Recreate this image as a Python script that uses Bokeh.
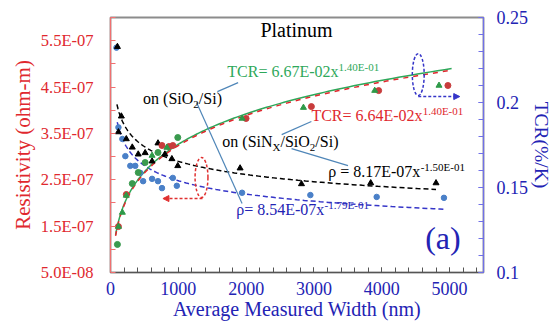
from bokeh.plotting import figure
from bokeh.models import Range1d, LinearAxis, FixedTicker, Arrow, NormalHead, Label
from bokeh.embed import file_html
from bokeh.resources import INLINE
import numpy as np

# ---------------- data ----------------
# Resistivity, Pt on SiNx/SiO2/Si (black triangles)
sinx_rho_w = [102, 160, 117, 233, 321, 409, 511, 613, 700, 802, 905, 992, 1911, 2816, 3837, 4800]
sinx_rho = [5.37e-7, 3.87e-7, 3.53e-7, 3.38e-7, 3.20e-7, 3.05e-7, 3.08e-7, 2.90e-7, 3.29e-7,
            3.05e-7, 2.95e-7, 2.80e-7, 2.75e-7, 2.41e-7, 2.43e-7, 2.43e-7]
# Resistivity, Pt on SiO2/Si (blue circles)
sio2_rho_w = [88, 117, 175, 219, 292, 365, 438, 481, 613, 700, 759, 919, 978, 1940, 2947, 3925, 4917]
sio2_rho = [5.35e-7, 3.63e-7, 3.38e-7, 3.01e-7, 2.80e-7, 2.80e-7, 2.65e-7, 2.47e-7, 2.52e-7,
            2.47e-7, 2.32e-7, 2.54e-7, 2.37e-7, 2.22e-7, 2.17e-7, 2.13e-7, 2.11e-7]
# TCR, green triangles
tcr_g_tri_w = [117, 175, 233, 613, 832, 1940, 2845, 3896, 4844]
tcr_g_tri = [0.127, 0.1353, 0.1453, 0.1688, 0.1735, 0.1906, 0.197, 0.207, 0.210]
# TCR, green circles
tcr_g_cir_w = [102, 321, 409, 511, 700, 992]
tcr_g_cir = [0.1165, 0.1523, 0.1588, 0.1647, 0.1706, 0.1794]
# TCR, red circles
tcr_r_w = [117, 233, 759, 861, 919, 1999, 2962, 3954, 4975]
tcr_r = [0.127, 0.1459, 0.1747, 0.1741, 0.1747, 0.1906, 0.1976, 0.207, 0.210]

# power-law trend lines as printed on the chart
tcr_g_a, tcr_g_b = 6.67e-2, 1.40e-1
tcr_r_a, tcr_r_b = 6.64e-2, 1.40e-1
rho_sinx_a, rho_sinx_b = 8.17e-7, -1.50e-1
rho_sio2_a, rho_sio2_b = 8.54e-7, -1.79e-1

x_ticks = [0, 1000, 2000, 3000, 4000, 5000]
rho_ticks = [5e-8, 1.5e-7, 2.5e-7, 3.5e-7, 4.5e-7, 5.5e-7]
rho_tick_labels = ["5.0E-08", "1.5E-07", "2.5E-07", "3.5E-07", "4.5E-07", "5.5E-07"]
tcr_ticks = [0.1, 0.15, 0.2, 0.25]
tcr_tick_labels = ["0.1", "0.15", "0.2", "0.25"]

# ---------------- colours / fonts ----------------
SERIF = "Liberation Serif, Times New Roman, DejaVu Serif, serif"
RED = "#E0282E"
BLUE = "#2323B4"
GREEN = "#2EA85A"
LEFT_LINE = "#F07070"
RIGHT_LINE = "#7070E8"
LINK = "#4F86B8"

p = figure(width=555, height=325, output_backend="svg", toolbar_location=None,
           x_range=Range1d(0, 5500), y_range=Range1d(5e-8, 6e-7),
           min_border_left=110, min_border_right=68, min_border_top=17, min_border_bottom=53)
p.extra_y_ranges = {"tcr": Range1d(0.1, 0.25)}
p.xgrid.visible = False
p.ygrid.visible = False
p.outline_line_color = "#8C8C8C"
p.outline_line_width = 1.8
p.background_fill_color = "white"
p.border_fill_color = "white"

# x axis
xa = p.xaxis[0]
xa.ticker = FixedTicker(ticks=x_ticks, minor_ticks=list(range(0, 5600, 200)))
xa.axis_label = "Average Measured Width (nm)"
xa.axis_line_color = "#555555"
xa.major_tick_line_color = "#555555"
xa.minor_tick_line_color = "#555555"
xa.major_label_text_color = BLUE
xa.axis_label_text_color = BLUE

# left axis
ya = p.yaxis[0]
ya.ticker = FixedTicker(ticks=rho_ticks, minor_ticks=[1e-7, 2e-7, 3e-7, 4e-7, 5e-7, 6e-7])
ya.major_label_overrides = dict(zip(rho_ticks, rho_tick_labels))
ya.axis_label = "Resistivity (ohm-m)"
ya.axis_line_color = LEFT_LINE
ya.major_tick_line_color = LEFT_LINE
ya.minor_tick_line_color = LEFT_LINE
ya.major_label_text_color = RED
ya.axis_label_text_color = RED

# right axis
ra = LinearAxis(y_range_name="tcr", axis_label="TCR(%/K)")
ra.ticker = FixedTicker(ticks=tcr_ticks, minor_ticks=[round(0.1 + 0.01 * i, 2) for i in range(16)])
ra.major_label_overrides = dict(zip(tcr_ticks, tcr_tick_labels))
ra.axis_line_color = RIGHT_LINE
ra.major_tick_line_color = RIGHT_LINE
ra.minor_tick_line_color = RIGHT_LINE
ra.major_label_text_color = BLUE
ra.axis_label_text_color = BLUE
ra.axis_label_orientation = "vertical"
p.add_layout(ra, "right")

for ax in [xa, ya, ra]:
    ax.major_tick_in = 5
    ax.major_tick_out = 0
    ax.minor_tick_in = 5
    ax.minor_tick_out = 0
    ax.axis_line_width = 1.2
    ax.major_label_text_font = SERIF
    ax.axis_label_text_font = SERIF
    ax.axis_label_text_font_style = "normal"
ya.major_label_text_font_size = "16.5px"
xa.major_label_text_font_size = "18px"
ra.major_label_text_font_size = "18px"
ya.axis_label_text_font_size = "21px"
xa.axis_label_text_font_size = "20px"
ra.axis_label_text_font_size = "19.5px"
xa.major_label_standoff = 9
xa.axis_label_standoff = 0
ya.major_label_standoff = 17
ya.axis_label_standoff = 3
ra.major_label_standoff = 13
ra.axis_label_standoff = 0

# ---------------- trend lines ----------------
xr = np.geomspace(95, 4800, 200)
p.line(xr, rho_sinx_a * xr ** rho_sinx_b, line_color="black", line_dash="5 3", line_width=1.5)
xb = np.geomspace(100, 4950, 200)
p.line(xb, rho_sio2_a * xb ** rho_sio2_b, line_color="#3535C8", line_dash="5 3", line_width=1.5)
xt = np.geomspace(75, 5030, 200)
p.line(xt, tcr_g_a * xt ** tcr_g_b, line_color=GREEN, line_width=1.5, y_range_name="tcr")
p.line(xt, tcr_r_a * xt ** tcr_r_b, line_color=RED, line_dash="5 5", line_width=1.5, y_range_name="tcr")

# ---------------- markers ----------------
p.scatter(sio2_rho_w, sio2_rho, marker="circle", size=5.5, fill_color="#4A80C8", line_color="#4A80C8")
p.scatter(sinx_rho_w, sinx_rho, marker="triangle", size=6, fill_color="black", line_color="black")
p.scatter(tcr_g_cir_w, tcr_g_cir, marker="circle", size=6, fill_color="#3A9A4E", line_color="#3A9A4E",
          y_range_name="tcr")
p.scatter(tcr_r_w, tcr_r, marker="circle", size=6, fill_color="#C83C3C", line_color="#C83C3C",
          y_range_name="tcr")
p.scatter(tcr_g_tri_w, tcr_g_tri, marker="triangle", size=6, fill_color="#2E9A48", line_color="#2E9A48",
          y_range_name="tcr")

# ---------------- annotations ----------------
W = {" ": 250, "(": 333, ")": 333, "-": 333, ".": 250, "/": 278, "=": 564, "C": 667, "E": 611,
     "N": 722, "O": 722, "R": 667, "S": 556, "T": 611, "X": 722, "i": 278, "n": 500, "o": 500,
     "x": 500, "ρ": 520}


def tw(s, size):
    return sum(W.get(c, 500) for c in s) * size / 1000.0


def label(x, y, txt, size, color, dx=0.0, dy=0.0, align="left"):
    p.add_layout(Label(x=x, y=y, text=txt, x_offset=dx, y_offset=dy + 0.4 * size, y_range_name="tcr",
                       text_font=SERIF, text_font_size=f"{size}px", text_color=color,
                       text_baseline="alphabetic", text_align=align))


def rich(x, y, parts, color):
    dx = 0.0
    for txt, size, dy in parts:
        label(x, y, txt, size, color, dx=dx, dy=dy)
        dx += tw(txt, size)


label(2743, 0.2382, "Platinum", 20, "black", align="center")
rich(1722, 0.2147, [("TCR= 6.67E-02x", 16, 0), ("1.40E-01", 11, 6)], GREEN)
rich(2962, 0.1888, [("TCR= 6.64E-02x", 16, 0), ("1.40E-01", 11, 6)], RED)
rich(481, 0.1988, [("on (SiO", 16, 0), ("2", 11, -4), ("/Si)", 16, 0)], "black")
rich(1649, 0.1735, [("on (SiN", 16, 0), ("X", 11, -4), ("/SiO", 16, 0), ("2", 11, -4), ("/Si)", 16, 0)], "black")
rich(3210, 0.1559, [("ρ = 8.17E-07x", 16, 0), ("-1.50E-01", 11, 6)], "black")
rich(1853, 0.1335, [("ρ= 8.54E-07x", 16, 0), ("-1.79E-01", 11, 6)], BLUE)
label(4640, 0.1129, "(a)", 32, BLUE)

# pointer lines
p.segment(x0=[1576, 1269, 2524, 2670], y0=[0.2064, 0.2000, 0.1811, 0.1729],
          x1=[1882, 1940, 2962, 3502], y1=[0.2117, 0.1406, 0.1888, 0.1629],
          line_color=LINK, line_width=1.2, y_range_name="tcr")

# ellipses with arrows (axis indicators)
p.ellipse(x=[1342], y=[0.1559], width=190, height=0.0235, fill_color=None, line_color="#E03030",
          line_dash="3 2", line_width=1.5, y_range_name="tcr")
p.add_layout(Arrow(end=NormalHead(size=6, fill_color="#E03030", line_color="#E03030"),
                   x_start=1357, y_start=0.1435, x_end=773, y_end=0.1435, y_range_name="tcr",
                   line_color="#E03030", line_dash="3 2", line_width=1.5))
p.ellipse(x=[4538], y=[0.2164], width=175, height=0.0247, fill_color=None, line_color="#3535C8",
          line_dash="3 2", line_width=1.5, y_range_name="tcr")
p.add_layout(Arrow(end=NormalHead(size=6, fill_color="#3535C8", line_color="#3535C8"),
                   x_start=4538, y_start=0.2035, x_end=5150, y_end=0.2035, y_range_name="tcr",
                   line_color="#3535C8", line_dash="3 2", line_width=1.5))

open("out.html", "w").write(file_html(p, INLINE))
